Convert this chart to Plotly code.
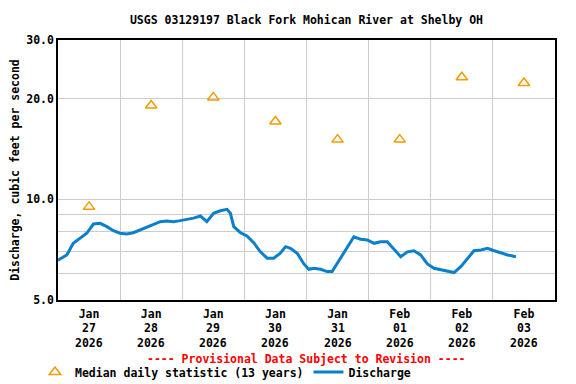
import pandas as pd
import plotly.graph_objects as go

# ---- data ----
start = pd.Timestamp("2026-01-27 00:00")
hours = [0.0, 3.4, 5.9, 8.5, 11.1, 13.7, 16.3, 18.9, 21.4, 24.0, 26.6, 29.1, 31.7, 34.3,
         36.9, 39.5, 42.1, 44.6, 47.2, 49.8, 52.4, 55.0, 57.5, 60.1, 62.7, 65.3, 66.6,
         67.9, 70.5, 73.0, 75.6, 78.2, 80.8, 83.3, 85.9, 87.9, 89.8, 92.4, 95.0, 96.9,
         98.8, 101.4, 104.0, 105.9, 107.9, 110.4, 112.4, 114.3, 116.9, 119.5, 122.1,
         124.6, 127.2, 129.8, 132.4, 135.0, 137.5, 140.1, 142.7, 145.3, 147.9, 150.4,
         153.0, 155.6, 158.2, 160.7, 163.4, 165.9, 168.5, 171.1, 173.7, 176.9]
discharge = [6.58, 6.82, 7.39, 7.65, 7.92, 8.44, 8.48, 8.29, 8.06, 7.92, 7.88, 7.95, 8.10, 8.25,
             8.38, 8.58, 8.62, 8.58, 8.64, 8.72, 8.79, 8.92, 8.58, 9.09, 9.25, 9.34, 9.09,
             8.29, 7.95, 7.77, 7.42, 6.97, 6.67, 6.67, 6.90, 7.22, 7.14, 6.90, 6.41, 6.18,
             6.22, 6.18, 6.08, 6.08, 6.44, 6.90, 7.31, 7.73, 7.60, 7.56, 7.39,
             7.47, 7.47, 7.09, 6.74, 6.97, 7.02, 6.82, 6.41, 6.22, 6.15, 6.08,
             6.04, 6.29, 6.67, 7.02, 7.06, 7.14, 7.02, 6.90, 6.82, 6.74]

median_days = ["2026-01-27 12:00", "2026-01-28 12:00", "2026-01-29 12:00", "2026-01-30 12:00",
               "2026-01-31 12:00", "2026-02-01 12:00", "2026-02-02 12:00", "2026-02-03 12:00"]
median_values = [9.5, 19.1, 20.2, 17.1, 15.1, 15.1, 23.2, 22.3]

tick_dates = median_days
tick_months = ["Jan", "Jan", "Jan", "Jan", "Jan", "Feb", "Feb", "Feb"]
tick_days = ["27", "28", "29", "30", "31", "01", "02", "03"]
tick_years = ["2026"] * 8
grid_dates = ["2026-01-28", "2026-01-29", "2026-01-30", "2026-01-31",
              "2026-02-01", "2026-02-02", "2026-02-03"]
y_tickvals = [5, 6, 7, 8, 9, 10, 20, 30]
y_ticktext = ["5.0", "", "", "", "", "10.0", "20.0", "30.0"]

times = [start + pd.Timedelta(hours=h) for h in hours]

FONT = "DejaVu Sans Mono"
FS = 11.5
PLOT_H = 260
X_RANGE = ["2026-01-27 00:00", "2026-02-04 00:00"]

fig = go.Figure()
fig.add_trace(go.Scatter(
    x=pd.to_datetime(median_days), y=median_values, mode="markers",
    name="Median daily statistic (13 years)",
    marker=dict(symbol="triangle-up-open", size=10, color="#F59A00", line=dict(width=1.5)),
))
fig.add_trace(go.Scatter(
    x=times, y=discharge, mode="lines", name="Discharge",
    line=dict(color="#0A7FCC", width=3),
))

tickfont = dict(family=FONT, size=FS, weight="bold", color="black")

annotations = [dict(text="---- Provisional Data Subject to Revision ----",
                    x=0.5, xref="paper", y=(300 - 359) / PLOT_H, yref="paper",
                    xanchor="center", yanchor="middle", showarrow=False, borderpad=0,
                    font=dict(family=FONT, size=FS, color="#FF0000", weight="bold"))]
# second and third rows of the date tick labels, placed on the x scale
for row_texts, row_y in ((tick_days, 327.5), (tick_years, 342.5)):
    for d, t in zip(tick_dates, row_texts):
        annotations.append(dict(text=t, x=pd.Timestamp(d), xref="x",
                                y=(300 - row_y) / PLOT_H, yref="paper",
                                xanchor="center", yanchor="middle", showarrow=False,
                                borderpad=0, font=tickfont))

fig.update_layout(
    width=576, height=384,
    margin=dict(l=58, r=21, t=40, b=84, autoexpand=False),
    paper_bgcolor="white", plot_bgcolor="white",
    font=dict(family=FONT, size=FS, color="black", weight="bold"),
    title=dict(text="USGS 03129197 Black Fork Mohican River at Shelby OH",
               x=0.5, xref="paper", y=1 - 20 / 384, yref="container",
               xanchor="center", yanchor="middle",
               font=dict(family=FONT, size=FS, color="black", weight="bold")),
    showlegend=True,
    legend=dict(orientation="h", x=(35 - 58) / 497, xanchor="left",
                y=(300 - 372) / PLOT_H, yanchor="middle",
                yref="paper", font=dict(family=FONT, size=FS, weight="bold"),
                itemwidth=30, tracegroupgap=0, bgcolor="rgba(0,0,0,0)"),
    annotations=annotations,
    xaxis=dict(
        type="date", automargin=False, range=X_RANGE,
        tickmode="array", tickvals=pd.to_datetime(tick_dates), ticktext=tick_months,
        showgrid=False, ticks="", ticklabelstandoff=2,
        minor=dict(tickmode="array", tickvals=pd.to_datetime(grid_dates), showgrid=True,
                   gridcolor="#CCCCCC", gridwidth=1, ticks=""),
        showline=True, linecolor="black", linewidth=1.5, mirror=True,
        tickfont=tickfont, zeroline=False, fixedrange=True,
    ),
    yaxis=dict(
        type="log", automargin=False,
        range=[0.69897, 1.47712],
        tickmode="array", tickvals=y_tickvals, ticktext=y_ticktext,
        showgrid=True, gridcolor="#CCCCCC", gridwidth=1, ticks="",
        showline=True, linecolor="black", linewidth=1.5, mirror=True,
        tickfont=tickfont,
        title=dict(text="Discharge, cubic feet per second", standoff=4,
                   font=dict(family=FONT, size=FS, weight="bold")),
        zeroline=False, fixedrange=True,
    ),
)

fig.write_html("out.html", config={"displayModeBar": False},
               post_script="document.body.style.margin='0';document.body.style.overflow='hidden';")
